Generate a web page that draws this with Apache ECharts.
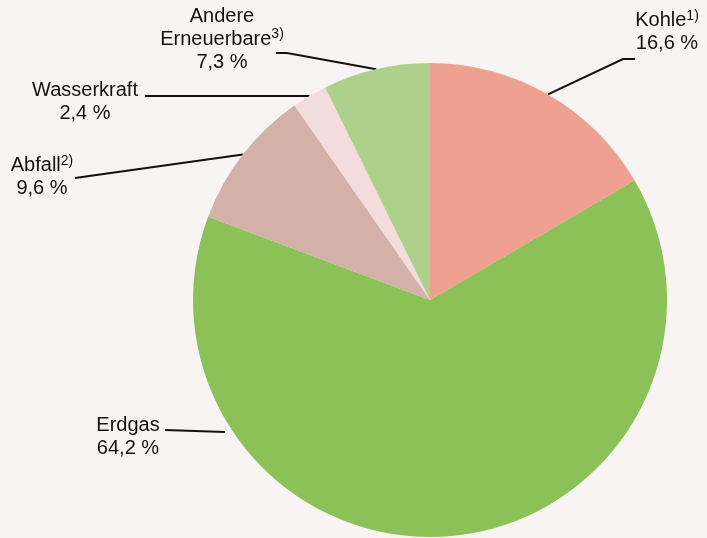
<!DOCTYPE html>
<html>
<head>
<meta charset="utf-8">
<script src="https://cdn.jsdelivr.net/npm/echarts@6/dist/echarts.min.js"></script>
<style>
  html, body { margin: 0; padding: 0; background: #f8f4f3; }
  #chart { width: 707px; height: 538px; }
</style>
</head>
<body>
<div id="chart"></div>
<script>
// Daten (Reihenfolge im Uhrzeigersinn ab 12 Uhr)
const names = ['Kohle', 'Erdgas', 'Abfall', 'Wasserkraft', 'Andere Erneuerbare'];
const values = [16.6, 64.2, 9.6, 2.4, 7.3];
const labelTexts = [
  '{t|Kohle}{sup|1)}\n{t|16,6 %}',
  '{t|Erdgas}\n{t|64,2 %}',
  '{t|Abfall}{sup|2)}\n{t|9,6 %}',
  '{t|Wasserkraft}\n{t|2,4 %}',
  '{t|Andere}\n{t|Erneuerbare}{sup|3)}\n{t|7,3 %}'
];
const colors = ['#f0a090', '#8cc158', '#d3b0a8', '#f2dcdc', '#add18a'];

// Beschriftungspositionen (Layout)
const labelPos = [
  { x: 667, y: 32, line: [[623, 59], [635, 59]] },
  { x: 128, y: 437, line: [[225, 432], [165, 430]] },
  { x: 42, y: 177, line: [[75, 178]] },
  { x: 85, y: 102, line: [[145, 96]] },
  { x: 222, y: 39, line: [[287, 53], [276, 53]] }
];

const chart = echarts.init(document.getElementById('chart'));

chart.setOption({
  backgroundColor: '#f8f4f3',
  animation: false,
  series: [{
    type: 'pie',
    center: [430, 300],
    radius: [0, 237],
    startAngle: 90,
    clockwise: true,
    data: names.map((n, i) => ({
      name: n,
      value: values[i],
      itemStyle: { color: colors[i] },
      label: { formatter: labelTexts[i] }
    })),
    itemStyle: { borderColor: 'transparent', borderWidth: 0 },
    label: {
      show: true,
      position: 'outside',
      color: '#111',
      fontFamily: 'Liberation Sans, Arial, sans-serif',
      align: 'center',
      rich: {
        t: { fontSize: 20, lineHeight: 23, color: '#111', fontFamily: 'Liberation Sans, Arial, sans-serif' },
        sup: { fontSize: 14, lineHeight: 23, verticalAlign: 'top', color: '#111', fontFamily: 'Liberation Sans, Arial, sans-serif', padding: [0, 0, 6, 0] }
      }
    },
    labelLine: {
      show: true,
      lineStyle: { color: '#111', width: 2 },
      length: 20,
      length2: 10
    },
    labelLayout: function (params) {
      const i = params.dataIndex;
      const p = labelPos[i];
      let start = params.labelLinePoints ? params.labelLinePoints[0] : null;
      if (i === 1) {
        // Erdgas: Linie beginnt am linken Rand des Segments
        start = null;
      }
      const pts = [];
      if (start) pts.push(start);
      p.line.forEach(q => pts.push(q));
      if (pts.length === 2) pts.push(pts[1]);
      return {
        x: p.x,
        y: p.y,
        align: 'center',
        verticalAlign: 'middle',
        labelLinePoints: pts.slice(0, 3)
      };
    }
  }]
});
</script>
</body>
</html>
